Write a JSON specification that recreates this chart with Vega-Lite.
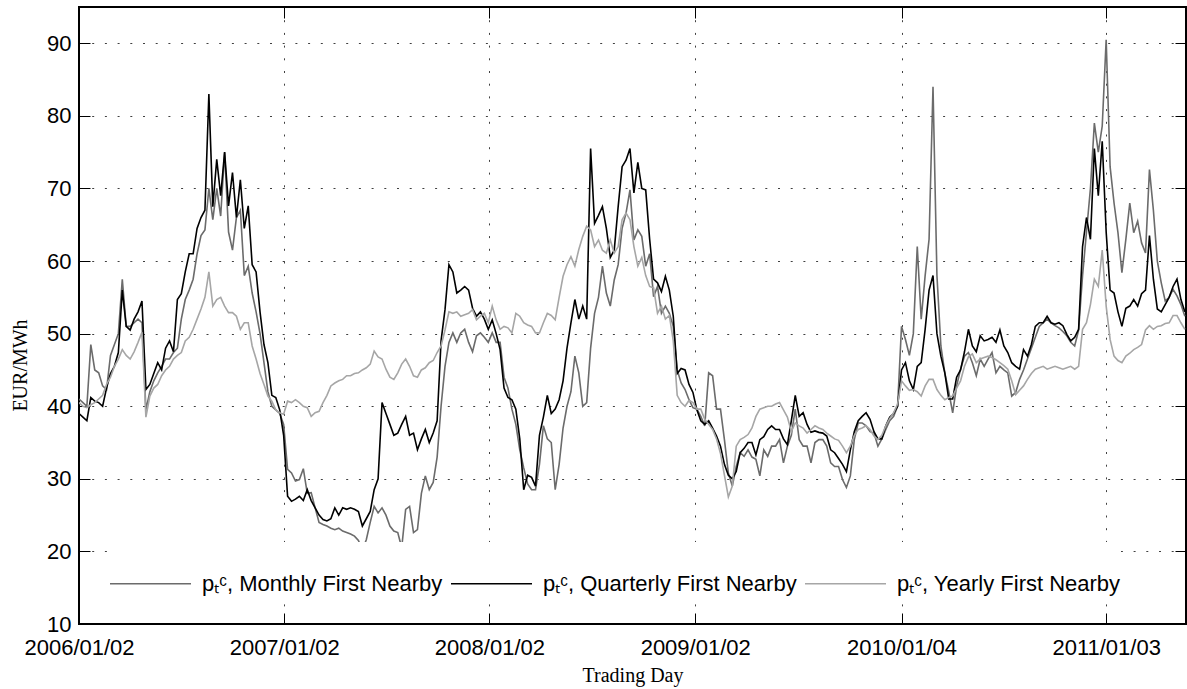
{
"$schema": "https://vega.github.io/schema/vega-lite/v6.json",
"width": 1107, "height": 617,
"autosize": {"type": "none"},
"padding": {"left": 79, "top": 7, "right": 1, "bottom": 65},
"background": "white",
"config": {"view": {"stroke": "#000", "strokeWidth": 2}, "font": "Liberation Sans"},
"data": {"values": [
{"d":"2006-01-02","m":41,"q":39,"y":40.5},
{"d":"2006-01-09","m":40.5,"q":38.5,"y":40},
{"d":"2006-01-16","m":40,"q":38,"y":39.8},
{"d":"2006-01-23","m":48.5,"q":41.2,"y":40.2},
{"d":"2006-01-30","m":45,"q":40.7,"y":40.5},
{"d":"2006-02-06","m":44.6,"q":40.5,"y":41},
{"d":"2006-02-13","m":42.8,"q":40,"y":41.5},
{"d":"2006-02-20","m":42.3,"q":42.5,"y":43},
{"d":"2006-02-27","m":47,"q":44.5,"y":44},
{"d":"2006-03-06","m":48.5,"q":45.5,"y":45.5},
{"d":"2006-03-13","m":50,"q":47.4,"y":46.5},
{"d":"2006-03-20","m":57.5,"q":56,"y":47.8},
{"d":"2006-03-27","m":51,"q":51,"y":47},
{"d":"2006-04-03","m":51,"q":50.5,"y":46.5},
{"d":"2006-04-10","m":51.5,"q":52,"y":47.5},
{"d":"2006-04-17","m":52,"q":53,"y":48.8},
{"d":"2006-04-24","m":51.5,"q":54.5,"y":50.2},
{"d":"2006-05-01","m":39.5,"q":42.3,"y":38.5},
{"d":"2006-05-08","m":42,"q":43,"y":41.4},
{"d":"2006-05-15","m":43.5,"q":44.5,"y":42.5},
{"d":"2006-05-22","m":44.6,"q":46,"y":43},
{"d":"2006-05-29","m":45.5,"q":45,"y":44.2},
{"d":"2006-06-05","m":46.5,"q":48,"y":45},
{"d":"2006-06-12","m":46.5,"q":49,"y":45.5},
{"d":"2006-06-19","m":47.4,"q":47.5,"y":46.5},
{"d":"2006-06-26","m":48,"q":54.7,"y":47},
{"d":"2006-07-03","m":52,"q":55.5,"y":47.4},
{"d":"2006-07-10","m":54.7,"q":58.5,"y":49},
{"d":"2006-07-17","m":56,"q":61,"y":49.5},
{"d":"2006-07-24","m":57.5,"q":61,"y":50.6},
{"d":"2006-07-31","m":61,"q":64.5,"y":52},
{"d":"2006-08-07","m":63.5,"q":66,"y":53.4},
{"d":"2006-08-14","m":64.3,"q":67,"y":55},
{"d":"2006-08-21","m":70,"q":83,"y":58.5},
{"d":"2006-08-28","m":65.7,"q":67.5,"y":53.8},
{"d":"2006-09-04","m":70,"q":74,"y":54.7},
{"d":"2006-09-11","m":66.2,"q":69,"y":55},
{"d":"2006-09-18","m":75,"q":75,"y":53.8},
{"d":"2006-09-25","m":64,"q":67.6,"y":52.9},
{"d":"2006-10-02","m":61.5,"q":72.2,"y":52.9},
{"d":"2006-10-09","m":66,"q":66,"y":52.4},
{"d":"2006-10-16","m":67,"q":71.2,"y":50.6},
{"d":"2006-10-23","m":58,"q":64.5,"y":51.5},
{"d":"2006-10-30","m":59.3,"q":67.6,"y":51.5},
{"d":"2006-11-06","m":55.6,"q":59.5,"y":48.3},
{"d":"2006-11-13","m":53,"q":58.5,"y":46.5},
{"d":"2006-11-20","m":50,"q":53,"y":44.5},
{"d":"2006-11-27","m":46,"q":48.5,"y":43},
{"d":"2006-12-04","m":42,"q":46,"y":41.4},
{"d":"2006-12-11","m":40,"q":41.5,"y":40.7},
{"d":"2006-12-18","m":39.5,"q":41.2,"y":39.5},
{"d":"2006-12-25","m":39,"q":39.5,"y":39.1},
{"d":"2007-01-01","m":37.5,"q":36,"y":38.9},
{"d":"2007-01-08","m":31.3,"q":27.6,"y":40.7},
{"d":"2007-01-15","m":30.8,"q":26.9,"y":40.5},
{"d":"2007-01-22","m":29.7,"q":27.2,"y":40.9},
{"d":"2007-01-29","m":29.9,"q":27.6,"y":40.5},
{"d":"2007-02-05","m":31.4,"q":27,"y":40},
{"d":"2007-02-12","m":28,"q":28.5,"y":39.8},
{"d":"2007-02-19","m":28.1,"q":27,"y":38.6},
{"d":"2007-02-26","m":26,"q":26,"y":39.1},
{"d":"2007-03-05","m":24,"q":25,"y":39.3},
{"d":"2007-03-12","m":23.7,"q":24.4,"y":40.5},
{"d":"2007-03-19","m":23.5,"q":24.2,"y":41.5},
{"d":"2007-03-26","m":23.2,"q":24.5,"y":42.8},
{"d":"2007-04-02","m":23,"q":26,"y":43.2},
{"d":"2007-04-09","m":23.2,"q":25,"y":43.5},
{"d":"2007-04-16","m":22.8,"q":26,"y":43.7},
{"d":"2007-04-23","m":22.6,"q":25.8,"y":44.2},
{"d":"2007-04-30","m":22.4,"q":26,"y":44.2},
{"d":"2007-05-07","m":22.1,"q":25.8,"y":44.5},
{"d":"2007-05-14","m":21.5,"q":25.5,"y":44.6},
{"d":"2007-05-21","m":20.2,"q":23.5,"y":45},
{"d":"2007-05-28","m":21.6,"q":24.5,"y":45.3},
{"d":"2007-06-04","m":24,"q":25.5,"y":45.8},
{"d":"2007-06-11","m":26.2,"q":28.5,"y":47.6},
{"d":"2007-06-18","m":25.3,"q":30,"y":46.8},
{"d":"2007-06-25","m":26,"q":40.5,"y":46.5},
{"d":"2007-07-02","m":25,"q":39,"y":45.1},
{"d":"2007-07-09","m":23.5,"q":37.5,"y":44},
{"d":"2007-07-16","m":22.8,"q":36,"y":43.7},
{"d":"2007-07-23","m":22.6,"q":36.3,"y":44.6},
{"d":"2007-07-30","m":20.5,"q":37.5,"y":45.8},
{"d":"2007-08-06","m":25.8,"q":38.6,"y":46.5},
{"d":"2007-08-13","m":26.2,"q":36,"y":45.5},
{"d":"2007-08-20","m":22.6,"q":36.3,"y":44.2},
{"d":"2007-08-27","m":23,"q":34,"y":44},
{"d":"2007-09-03","m":28,"q":35.5,"y":45},
{"d":"2007-09-10","m":30.4,"q":36.8,"y":45.3},
{"d":"2007-09-17","m":28.5,"q":35,"y":46},
{"d":"2007-09-24","m":29.5,"q":36.3,"y":46.3},
{"d":"2007-10-01","m":33,"q":38,"y":47.4},
{"d":"2007-10-08","m":40,"q":49,"y":48.3},
{"d":"2007-10-15","m":45.5,"q":53.3,"y":50.5},
{"d":"2007-10-22","m":48.8,"q":59.5,"y":53},
{"d":"2007-10-29","m":50.1,"q":58.5,"y":52.8},
{"d":"2007-11-05","m":48.8,"q":55.6,"y":53},
{"d":"2007-11-12","m":50.1,"q":56,"y":52.4},
{"d":"2007-11-19","m":50.6,"q":56.5,"y":52.6},
{"d":"2007-11-26","m":48.8,"q":56,"y":52.8},
{"d":"2007-12-03","m":47.5,"q":53.5,"y":53.3},
{"d":"2007-12-10","m":49.7,"q":52.4,"y":51.9},
{"d":"2007-12-17","m":50.1,"q":53,"y":52.4},
{"d":"2007-12-24","m":49.5,"q":52,"y":52.8},
{"d":"2007-12-31","m":48.8,"q":50.6,"y":51.5},
{"d":"2008-01-07","m":50.1,"q":51.9,"y":53.8},
{"d":"2008-01-14","m":48.8,"q":50,"y":51.9},
{"d":"2008-01-21","m":48.8,"q":47.8,"y":50.6},
{"d":"2008-01-28","m":44,"q":42.5,"y":51},
{"d":"2008-02-04","m":42.5,"q":41.2,"y":50.8},
{"d":"2008-02-11","m":39.6,"q":40.9,"y":50.1},
{"d":"2008-02-18","m":37.5,"q":39.6,"y":52.8},
{"d":"2008-02-25","m":34,"q":35.5,"y":52.4},
{"d":"2008-03-03","m":31.5,"q":28.5,"y":51.5},
{"d":"2008-03-10","m":29.3,"q":30.5,"y":51.2},
{"d":"2008-03-17","m":28.5,"q":30.2,"y":51},
{"d":"2008-03-24","m":28.5,"q":29,"y":50.1},
{"d":"2008-03-31","m":32,"q":36,"y":50.1},
{"d":"2008-04-07","m":37.3,"q":38.5,"y":51.5},
{"d":"2008-04-14","m":35.5,"q":41.5,"y":52.8},
{"d":"2008-04-21","m":35,"q":39,"y":52.5},
{"d":"2008-04-28","m":28.5,"q":39.6,"y":51.9},
{"d":"2008-05-05","m":32,"q":40.9,"y":55},
{"d":"2008-05-12","m":37,"q":43.5,"y":57.9},
{"d":"2008-05-19","m":40,"q":48,"y":59.5},
{"d":"2008-05-26","m":42,"q":51.5,"y":60.6},
{"d":"2008-06-02","m":46.9,"q":54.7,"y":59.3},
{"d":"2008-06-09","m":44.6,"q":52,"y":61.6},
{"d":"2008-06-16","m":40,"q":53.8,"y":63.4},
{"d":"2008-06-23","m":40.5,"q":52,"y":64.8},
{"d":"2008-06-30","m":48,"q":75.5,"y":64.3},
{"d":"2008-07-07","m":52.8,"q":65.2,"y":62},
{"d":"2008-07-14","m":55,"q":66.3,"y":62.9},
{"d":"2008-07-21","m":59.3,"q":67.5,"y":61.5},
{"d":"2008-07-28","m":55.6,"q":64.5,"y":61.1},
{"d":"2008-08-04","m":53.8,"q":60.5,"y":62.9},
{"d":"2008-08-11","m":57.4,"q":61.5,"y":61.1},
{"d":"2008-08-18","m":59.5,"q":67.5,"y":62},
{"d":"2008-08-25","m":64.5,"q":73,"y":65.7},
{"d":"2008-09-01","m":66.6,"q":73.9,"y":66.6},
{"d":"2008-09-08","m":69.8,"q":75.5,"y":65.7},
{"d":"2008-09-15","m":62.9,"q":69.4,"y":62},
{"d":"2008-09-22","m":64.3,"q":73.6,"y":59.3},
{"d":"2008-09-29","m":63.4,"q":70,"y":60.5},
{"d":"2008-10-06","m":59.3,"q":69.8,"y":58},
{"d":"2008-10-13","m":61,"q":63,"y":56.5},
{"d":"2008-10-20","m":55.1,"q":57.5,"y":56.3},
{"d":"2008-10-27","m":56.5,"q":57,"y":52.8},
{"d":"2008-11-03","m":52.8,"q":55.8,"y":53.8},
{"d":"2008-11-10","m":53.8,"q":57.9,"y":52},
{"d":"2008-11-17","m":52.8,"q":56,"y":52.5},
{"d":"2008-11-24","m":51,"q":52.4,"y":49},
{"d":"2008-12-01","m":45,"q":44.5,"y":41.5},
{"d":"2008-12-08","m":43.2,"q":45.2,"y":40.5},
{"d":"2008-12-15","m":42.3,"q":45,"y":40},
{"d":"2008-12-22","m":40.9,"q":43,"y":40.8},
{"d":"2008-12-29","m":39.8,"q":41.9,"y":40.5},
{"d":"2009-01-05","m":39.6,"q":39.5,"y":39.6},
{"d":"2009-01-12","m":38.6,"q":38,"y":39.6},
{"d":"2009-01-19","m":37.3,"q":37.5,"y":38.2},
{"d":"2009-01-26","m":44.6,"q":38,"y":37.5},
{"d":"2009-02-02","m":44.2,"q":37,"y":36.8},
{"d":"2009-02-09","m":39.6,"q":35.9,"y":35.5},
{"d":"2009-02-16","m":39.6,"q":34.5,"y":33.5},
{"d":"2009-02-23","m":35.4,"q":32,"y":30.5},
{"d":"2009-03-02","m":30.8,"q":30.5,"y":27.5},
{"d":"2009-03-09","m":29,"q":30,"y":29},
{"d":"2009-03-16","m":31.7,"q":31,"y":34.5},
{"d":"2009-03-23","m":33.6,"q":33.6,"y":35.4},
{"d":"2009-03-30","m":33.1,"q":34.2,"y":35.7},
{"d":"2009-04-06","m":34,"q":35,"y":36.1},
{"d":"2009-04-13","m":33,"q":35,"y":37},
{"d":"2009-04-20","m":32.7,"q":33.3,"y":38.6},
{"d":"2009-04-27","m":30.4,"q":35.4,"y":39.6},
{"d":"2009-05-04","m":34,"q":35.8,"y":39.8},
{"d":"2009-05-11","m":33.1,"q":36.8,"y":40},
{"d":"2009-05-18","m":34.5,"q":37.3,"y":40},
{"d":"2009-05-25","m":34.5,"q":36.8,"y":40.3},
{"d":"2009-06-01","m":35.4,"q":36.8,"y":40.5},
{"d":"2009-06-08","m":32.2,"q":35.5,"y":39.5},
{"d":"2009-06-15","m":34.5,"q":34.7,"y":38.5},
{"d":"2009-06-22","m":36,"q":38,"y":36.5},
{"d":"2009-06-29","m":39.6,"q":41.5,"y":37.7},
{"d":"2009-07-06","m":35.4,"q":38.6,"y":37.3},
{"d":"2009-07-13","m":34.5,"q":39.1,"y":37},
{"d":"2009-07-20","m":34.5,"q":37.5,"y":36.3},
{"d":"2009-07-27","m":32.2,"q":36.4,"y":36.8},
{"d":"2009-08-03","m":35,"q":36.6,"y":37.3},
{"d":"2009-08-10","m":35.4,"q":36.4,"y":37},
{"d":"2009-08-17","m":35.4,"q":36.3,"y":36.8},
{"d":"2009-08-24","m":34.5,"q":35.9,"y":36.3},
{"d":"2009-08-31","m":32.2,"q":34,"y":35.9},
{"d":"2009-09-07","m":31.7,"q":33.6,"y":35.5},
{"d":"2009-09-14","m":31.7,"q":32.8,"y":35.3},
{"d":"2009-09-21","m":29.9,"q":32,"y":34.5},
{"d":"2009-09-28","m":28.8,"q":31,"y":33.6},
{"d":"2009-10-05","m":30.4,"q":34,"y":34.5},
{"d":"2009-10-12","m":35.4,"q":36.5,"y":36},
{"d":"2009-10-19","m":37.7,"q":38,"y":36.8},
{"d":"2009-10-26","m":37.7,"q":38.6,"y":37},
{"d":"2009-11-02","m":37.3,"q":39.1,"y":37.3},
{"d":"2009-11-09","m":36.5,"q":38.2,"y":36.8},
{"d":"2009-11-16","m":36.3,"q":36.5,"y":35.9},
{"d":"2009-11-23","m":34.5,"q":35.5,"y":35.4},
{"d":"2009-11-30","m":35.5,"q":35.5,"y":36},
{"d":"2009-12-07","m":36.8,"q":37.3,"y":37.3},
{"d":"2009-12-14","m":38,"q":38.5,"y":38.3},
{"d":"2009-12-21","m":38.6,"q":39,"y":39.1},
{"d":"2009-12-28","m":40,"q":40,"y":40.3},
{"d":"2010-01-04","m":51,"q":45,"y":43.5},
{"d":"2010-01-11","m":49.2,"q":46,"y":42.8},
{"d":"2010-01-18","m":47,"q":43.5,"y":42.2},
{"d":"2010-01-25","m":50,"q":42.3,"y":42.3},
{"d":"2010-02-01","m":62,"q":45.5,"y":42},
{"d":"2010-02-08","m":52,"q":46,"y":41.4},
{"d":"2010-02-15","m":58,"q":50.6,"y":42.8},
{"d":"2010-02-22","m":63,"q":56,"y":43.7},
{"d":"2010-03-01","m":84,"q":58,"y":43.7},
{"d":"2010-03-08","m":58,"q":50,"y":42.3},
{"d":"2010-03-15","m":48.3,"q":46.9,"y":41.5},
{"d":"2010-03-22","m":44.6,"q":44.6,"y":40.9},
{"d":"2010-03-29","m":42,"q":41,"y":41.2},
{"d":"2010-04-05","m":39.1,"q":41,"y":41.4},
{"d":"2010-04-12","m":42.8,"q":44,"y":42.5},
{"d":"2010-04-19","m":45.1,"q":45,"y":43.5},
{"d":"2010-04-26","m":46.9,"q":47.5,"y":45.5},
{"d":"2010-05-03","m":47.4,"q":50.6,"y":46.8},
{"d":"2010-05-10","m":46,"q":48.3,"y":47.2},
{"d":"2010-05-17","m":44.2,"q":47.5,"y":46},
{"d":"2010-05-24","m":46.5,"q":49.7,"y":46.5},
{"d":"2010-05-31","m":45.5,"q":49,"y":46.7},
{"d":"2010-06-07","m":46.5,"q":49.2,"y":46.9},
{"d":"2010-06-14","m":47.4,"q":49.5,"y":46.7},
{"d":"2010-06-21","m":44.6,"q":48.8,"y":46.4},
{"d":"2010-06-28","m":45.5,"q":50.5,"y":46},
{"d":"2010-07-05","m":45,"q":48.3,"y":45.6},
{"d":"2010-07-12","m":44.6,"q":47.4,"y":45.1},
{"d":"2010-07-19","m":41.4,"q":46,"y":43.5},
{"d":"2010-07-26","m":41.9,"q":45.5,"y":41.6},
{"d":"2010-08-02","m":43.7,"q":45.1,"y":42.2},
{"d":"2010-08-09","m":45,"q":47.8,"y":42.8},
{"d":"2010-08-16","m":46.5,"q":46.9,"y":43.7},
{"d":"2010-08-23","m":48,"q":48.5,"y":44.5},
{"d":"2010-08-30","m":49.5,"q":51,"y":45.1},
{"d":"2010-09-06","m":51,"q":51.5,"y":45.3},
{"d":"2010-09-13","m":51.5,"q":51.5,"y":45.5},
{"d":"2010-09-20","m":52,"q":52.4,"y":45.1},
{"d":"2010-09-27","m":51.5,"q":51.5,"y":45.3},
{"d":"2010-10-04","m":51.1,"q":51.3,"y":45.5},
{"d":"2010-10-11","m":50.8,"q":51.5,"y":45.3},
{"d":"2010-10-18","m":50.3,"q":51.1,"y":45.1},
{"d":"2010-10-25","m":49.7,"q":49.9,"y":45.3},
{"d":"2010-11-01","m":48.8,"q":49,"y":45.5},
{"d":"2010-11-08","m":48.3,"q":49.5,"y":45.1},
{"d":"2010-11-15","m":50.5,"q":50.6,"y":45.5},
{"d":"2010-11-22","m":58,"q":62,"y":50.6},
{"d":"2010-11-29","m":64,"q":66,"y":51.5},
{"d":"2010-12-06","m":70,"q":63,"y":54},
{"d":"2010-12-13","m":79,"q":75.5,"y":57.5},
{"d":"2010-12-20","m":75,"q":69,"y":56.5},
{"d":"2010-12-27","m":78.6,"q":76.5,"y":61.5},
{"d":"2011-01-03","m":90.5,"q":64,"y":53.8},
{"d":"2011-01-10","m":73,"q":56,"y":49.2},
{"d":"2011-01-17","m":68,"q":55.6,"y":46.9},
{"d":"2011-01-24","m":63.9,"q":53,"y":46.3},
{"d":"2011-01-31","m":58.4,"q":51,"y":46},
{"d":"2011-02-07","m":63,"q":53.5,"y":46.9},
{"d":"2011-02-14","m":68,"q":53.8,"y":47.3},
{"d":"2011-02-21","m":63.9,"q":54.7,"y":47.8},
{"d":"2011-02-28","m":65.5,"q":53.8,"y":48.1},
{"d":"2011-03-07","m":62.5,"q":55.5,"y":48.5},
{"d":"2011-03-14","m":61.1,"q":56,"y":50.5},
{"d":"2011-03-21","m":72.6,"q":63.5,"y":51.1},
{"d":"2011-03-28","m":67,"q":57.5,"y":50.6},
{"d":"2011-04-04","m":60,"q":53.4,"y":51},
{"d":"2011-04-11","m":57,"q":53,"y":51.1},
{"d":"2011-04-18","m":54.5,"q":54,"y":51.4},
{"d":"2011-04-25","m":55,"q":55,"y":51.5},
{"d":"2011-05-02","m":56.1,"q":56.5,"y":52.5},
{"d":"2011-05-09","m":55.2,"q":57.5,"y":52.5},
{"d":"2011-05-16","m":54,"q":54.7,"y":51.5},
{"d":"2011-05-23","m":52.4,"q":53,"y":50.6}
]},
"transform": [{"fold": ["m", "q", "y"], "as": ["s", "v"]}],
"layer": [
{
"mark": {"type": "line", "strokeWidth": 1.6, "clip": true},
"encoding": {
"x": {"field": "d", "type": "temporal",
"scale": {"type": "utc", "domain": [{"year": 2006, "month": 1, "date": 2, "utc": true}, {"year": 2011, "month": 5, "date": 25, "utc": true}]},
"axis": {"orient": "bottom",
"values": [{"year": 2006, "month": 1, "date": 2, "utc": true}, {"year": 2007, "month": 1, "date": 2, "utc": true}, {"year": 2008, "month": 1, "date": 2, "utc": true}, {"year": 2009, "month": 1, "date": 2, "utc": true}, {"year": 2010, "month": 1, "date": 4, "utc": true}, {"year": 2011, "month": 1, "date": 3, "utc": true}],
"format": "%Y/%m/%d",
"labelFont": "Liberation Sans", "labelFontSize": 22, "labelColor": "#000", "labelPadding": 24,
"labelFlush": false, "labelOverlap": false, "labelBound": false,
"tickSize": -11, "tickColor": "#000", "tickWidth": 1,
"domain": false,
"grid": true, "gridColor": "#000", "gridOpacity": 0.75, "gridDash": [2, 10.7], "gridWidth": 1,
"title": "Trading Day", "titleFont": "Liberation Serif", "titleFontSize": 20, "titleFontWeight": "normal", "titleColor": "#000",
"titleY": 57, "titleBaseline": "alphabetic"}},
"y": {"field": "v", "type": "quantitative",
"scale": {"domain": [10, 95], "nice": false, "zero": false},
"axis": {"orient": "left", "values": [10, 20, 30, 40, 50, 60, 70, 80, 90],
"labelFont": "Liberation Sans", "labelFontSize": 22, "labelColor": "#000", "labelPadding": 19,
"labelFlush": false, "labelOverlap": false, "labelBound": false,
"tickSize": -11, "tickColor": "#000", "tickWidth": 1,
"domain": false,
"grid": true, "gridColor": "#000", "gridOpacity": 0.75, "gridDash": [2, 10.7], "gridWidth": 1,
"title": "EUR/MWh", "titleFont": "Liberation Serif", "titleFontSize": 20, "titleFontWeight": "normal", "titleColor": "#000",
"titleAngle": -90, "titleX": -53, "titleY": 358, "titleBaseline": "alphabetic", "titleAlign": "center"}},
"color": {"field": "s", "type": "nominal",
"scale": {"domain": ["m", "q", "y"], "range": ["#6b6b6b", "#000000", "#a6a6a6"]},
"legend": {"orient": "none", "legendX": 30, "legendY": 535, "direction": "horizontal", "columns": 3,
"title": null, "symbolType": "stroke", "symbolSize": 6561, "symbolStrokeWidth": 1.5,
"labelFont": "Liberation Sans", "labelFontSize": 22, "labelColor": "#000", "labelOffset": 10, "labelLimit": 0,
"columnPadding": 5, "padding": 0, "fillColor": "#ffffff",
"labelExpr": "datum.label == 'm' ? 'pₜᶜ, Monthly First Nearby' : datum.label == 'q' ? 'pₜᶜ, Quarterly First Nearby' : 'pₜᶜ, Yearly First Nearby'"}}
}
},
{
"mark": {"type": "line", "opacity": 0},
"encoding": {
"x": {"field": "d", "type": "temporal",
"axis": {"orient": "top",
"values": [{"year": 2006, "month": 1, "date": 2, "utc": true}, {"year": 2007, "month": 1, "date": 2, "utc": true}, {"year": 2008, "month": 1, "date": 2, "utc": true}, {"year": 2009, "month": 1, "date": 2, "utc": true}, {"year": 2010, "month": 1, "date": 4, "utc": true}, {"year": 2011, "month": 1, "date": 3, "utc": true}],
"labels": false, "grid": false, "domain": false, "tickSize": -11, "tickColor": "#000", "title": null}},
"y": {"field": "v", "type": "quantitative",
"axis": {"orient": "right", "values": [10, 20, 30, 40, 50, 60, 70, 80, 90],
"labels": false, "grid": false, "domain": false, "tickSize": -11, "tickColor": "#000", "title": null}}
}
}
],
"resolve": {"axis": {"x": "independent", "y": "independent"}}
}
